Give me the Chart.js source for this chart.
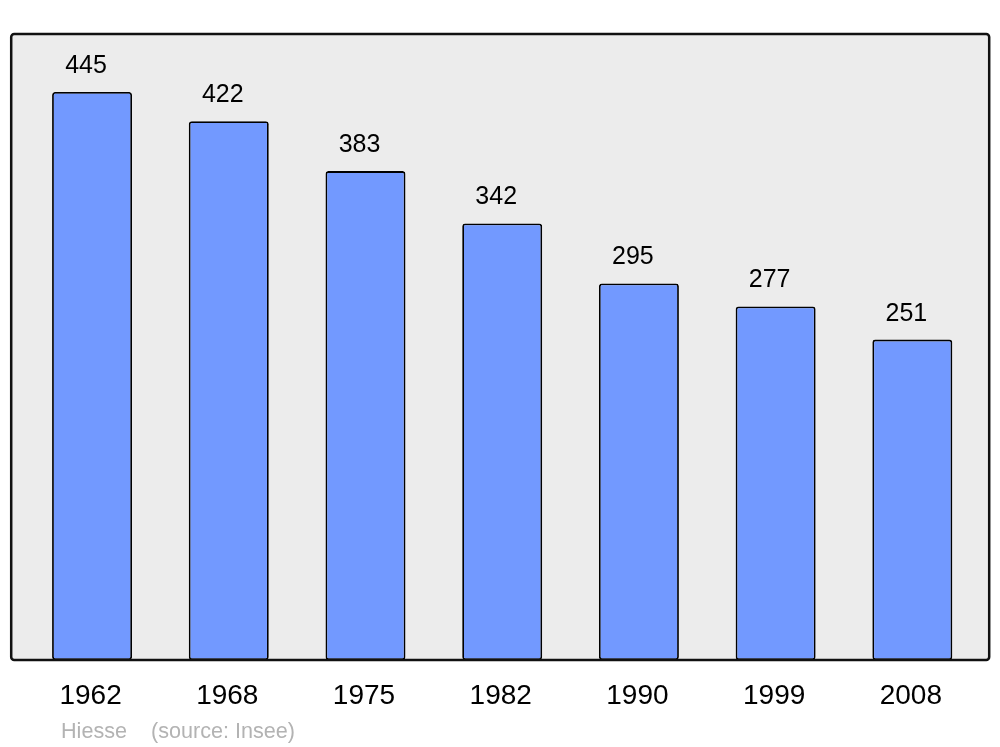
<!DOCTYPE html>
<html>
<head>
<meta charset="utf-8">
<script src="https://cdn.jsdelivr.net/npm/chart.js@4/dist/chart.umd.min.js"></script>
<style>
  html, body { margin: 0; padding: 0; background: #ffffff; }
  #wrap { width: 1000px; height: 747px; }
</style>
</head>
<body>
<div id="wrap"><canvas id="popChart" width="1000" height="747"></canvas></div>
<script>
// Population by census year
const years = ['1962', '1968', '1975', '1982', '1990', '1999', '2008'];
const population = [445, 422, 383, 342, 295, 277, 251];
const footerAuthor = 'Hiesse';
const footerSource = '(source: Insee)';

const FONT = '"Liberation Sans", Arial, sans-serif';

// grey framed panel behind the bars
const panelPlugin = {
    id: 'panel',
    beforeDatasetsDraw(chart) {
        const a = chart.chartArea;
        const ctx = chart.ctx;
        ctx.save();
        ctx.beginPath();
        ctx.roundRect(a.left - 12.5, a.top, (a.right + 8.5) - (a.left - 12.5), a.bottom - a.top, 3);
        ctx.fillStyle = '#ececec';
        ctx.fill();
        ctx.restore();
    },
    afterDatasetsDraw(chart) {
        const a = chart.chartArea;
        const ctx = chart.ctx;
        ctx.save();
        ctx.beginPath();
        ctx.roundRect(a.left - 12.5, a.top, (a.right + 8.5) - (a.left - 12.5), a.bottom - a.top, 3);
        ctx.lineWidth = 2.5;
        ctx.strokeStyle = '#111111';
        ctx.stroke();
        ctx.restore();
    }
};

// value labels above each bar + footer credit
const labelsPlugin = {
    id: 'valueLabels',
    afterDraw(chart) {
        const ctx = chart.ctx;
        const meta = chart.getDatasetMeta(0);
        ctx.save();
        ctx.fillStyle = '#000000';
        ctx.font = '25px ' + FONT;
        ctx.textAlign = 'center';
        ctx.textBaseline = 'alphabetic';
        meta.data.forEach((bar, i) => {
            ctx.fillText(String(population[i]), bar.x - 6, bar.y - 19);
        });

        ctx.fillStyle = '#b3b3b3';
        ctx.font = '21.6px ' + FONT;
        ctx.textAlign = 'left';
        ctx.fillText(footerAuthor, 61, 738);
        ctx.fillText(footerSource, 151, 738);
        ctx.restore();
    }
};

const ctx = document.getElementById('popChart').getContext('2d');
new Chart(ctx, {
    type: 'bar',
    data: {
        labels: years,
        datasets: [{
            data: population,
            backgroundColor: '#7299ff',
            borderColor: '#000000',
            borderWidth: 1.8,
            borderRadius: 3,
            borderSkipped: false,
            barPercentage: 0.585,
            categoryPercentage: 1.0
        }]
    },
    options: {
        responsive: false,
        animation: false,
        layout: { padding: { left: 23.7, right: 19.3, top: 34, bottom: 0 } },
        plugins: {
            legend: { display: false },
            tooltip: { enabled: false }
        },
        scales: {
            x: {
                grid: { display: false, drawTicks: false },
                border: { display: false },
                ticks: {
                    color: '#000000',
                    font: { family: FONT, size: 28 },
                    padding: 19,
                    labelOffset: -1.5,
                    maxRotation: 0
                },
                afterFit(scale) { scale.height = 87; }
            },
            y: {
                display: false,
                min: 0,
                max: 490.4
            }
        }
    },
    plugins: [panelPlugin, labelsPlugin]
});
</script>
</body>
</html>
